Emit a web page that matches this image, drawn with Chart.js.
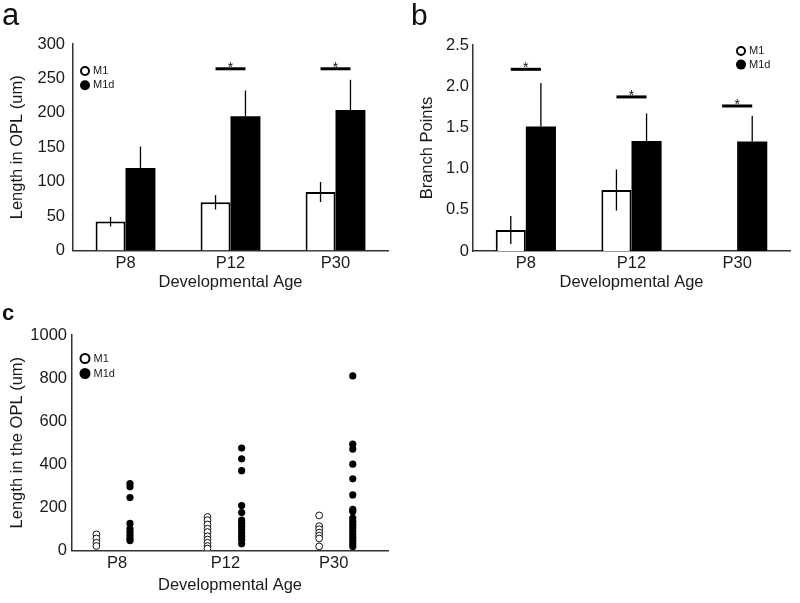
<!DOCTYPE html>
<html lang="en">
<head>
<meta charset="UTF-8">
<title>M1 / M1d dendrites in the OPL</title>
<script src="https://cdn.jsdelivr.net/npm/chart.js@4.4.1/dist/chart.umd.min.js"></script>
<style>
    body { margin: 0; background: #fff; font-family: "Liberation Sans", Arial, sans-serif; }
    .figure { position: relative; width: 800px; height: 603px; overflow: hidden; }
    .figure canvas { position: absolute; }
    #chartA { left: 0; top: 0; }
    #chartB { left: 400px; top: 0; }
    #chartC { left: 0; top: 300px; }
    .panel-label { position: absolute; color: #111; line-height: 1; }
</style>
</head>
<body>
<div class="figure">
    <canvas id="chartA" width="400" height="300"></canvas>
    <canvas id="chartB" width="400" height="300"></canvas>
    <canvas id="chartC" width="400" height="303"></canvas>
    <div class="panel-label" style="left:2px; top:-1px; font-size:31px">a</div>
    <div class="panel-label" style="left:411px; top:0; font-size:30px">b</div>
    <div class="panel-label" style="left:2px; top:302px; font-size:22px; font-weight:bold">c</div>
</div>

<script>
// categories + series
const categories = ['P8', 'P12', 'P30'];
const seriesNames = ['M1', 'M1d'];

// a: length in OPL (um), mean and error
const lengthM1 = [42, 70, 85];
const lengthM1Err = [7, 10.5, 14.5];
const lengthM1d = [120, 195, 204];
const lengthM1dErr = [31, 37.5, 44];
const lengthSig = [null, 264, 264];

// b: branch points, mean and error
const branchM1 = [0.255, 0.74, 0];
const branchM1Err = [0.17, 0.25, 0];
const branchM1d = [1.51, 1.335, 1.33];
const branchM1dErr = [0.53, 0.335, 0.31];
const branchSig = [2.205, 1.87, 1.76];

// c: single cells, length in the OPL (um)
const p8M1 = [74, 55, 35, 20];
const p8M1d = [310, 295, 245, 125, 100, 85, 70, 55, 45];
const p12M1 = [155, 140, 120, 100, 85, 65, 50, 35, 20, 8];
const p12M1d = [475, 425, 370, 208, 175, 140, 125, 110, 95, 80, 65, 50, 30];
const p30M1 = [162, 112, 98, 82, 68, 55, 18];
const p30M1d = [810, 493, 470, 400, 332, 257, 190, 180, 150, 135, 120, 105, 90, 75, 60, 45, 30, 18];
// x of each column on the scatter axis (1 = P8, 2 = P12, 3 = P30)
const m1Column = [0.81, 1.835, 2.865];
const m1dColumn = [1.12, 2.15, 3.175];

const FONT = '"Liberation Sans", Arial, sans-serif';
const INK = '#1a1a1a';
const AXIS = '#333';

Chart.defaults.font.family = FONT;
Chart.defaults.font.size = 16.5;
Chart.defaults.color = INK;

// error bars, significance bars and the little legend
function decor(opts) {
    return {
        id: 'decor',
        afterDatasetsDraw(chart) {
            const ctx = chart.ctx;
            const ys = chart.scales.y;
            ctx.save();
            ctx.strokeStyle = '#000';

            if (opts.errors) {
                opts.errors.forEach((errs, di) => {
                    const meta = chart.getDatasetMeta(di);
                    const upOnly = opts.upOnly && opts.upOnly[di];
                    meta.data.forEach((bar, j) => {
                        if (!errs[j]) return;
                        const v = chart.data.datasets[di].data[j];
                        ctx.lineWidth = 1.3;
                        ctx.beginPath();
                        ctx.moveTo(bar.x, ys.getPixelForValue(v + errs[j]));
                        ctx.lineTo(bar.x, ys.getPixelForValue(upOnly ? v : v - errs[j]));
                        ctx.stroke();
                    });
                });
            }

            if (opts.sig) {
                const m0 = chart.getDatasetMeta(0), m1 = chart.getDatasetMeta(1);
                opts.sig.forEach((lvl, j) => {
                    if (lvl == null) return;
                    const yp = ys.getPixelForValue(lvl);
                    const x0 = m0.data[j].x, x1 = m1.data[j].x;
                    ctx.lineWidth = 3;
                    ctx.beginPath();
                    ctx.moveTo(x0, yp);
                    ctx.lineTo(x1, yp);
                    ctx.stroke();
                    ctx.fillStyle = '#111';
                    ctx.font = '14px ' + FONT;
                    ctx.textAlign = 'center';
                    ctx.textBaseline = 'alphabetic';
                    ctx.fillText('*', (x0 + x1) / 2, yp + 3);
                });
            }

            const lg = opts.legend;
            chart.data.datasets.forEach((ds, i) => {
                const cy = lg.y + i * lg.gap;
                ctx.beginPath();
                if (i === 0) {
                    ctx.arc(lg.x, cy, lg.r - 1, 0, Math.PI * 2);
                    ctx.fillStyle = '#fff';
                    ctx.fill();
                    ctx.lineWidth = 2;
                    ctx.stroke();
                } else {
                    ctx.arc(lg.x, cy, lg.r, 0, Math.PI * 2);
                    ctx.fillStyle = '#000';
                    ctx.fill();
                }
                ctx.fillStyle = INK;
                ctx.font = '11px ' + FONT;
                ctx.textAlign = 'left';
                ctx.textBaseline = 'middle';
                ctx.fillText(ds.label, lg.x + lg.r + 3, cy);
            });
            ctx.restore();
        }
    };
}

function barConfig(m1, m1d, yTitle, yMax, yStep, lay) {
    return {
        type: 'bar',
        data: {
            labels: categories,
            datasets: [
                { label: seriesNames[0], data: m1, backgroundColor: '#fff', borderColor: '#000', borderWidth: 2,
                  categoryPercentage: 0.57, barPercentage: 1 },
                { label: seriesNames[1], data: m1d, backgroundColor: '#000', borderColor: '#000', borderWidth: 0,
                  categoryPercentage: 0.57, barPercentage: 1 }
            ]
        },
        options: {
            responsive: false,
            animation: false,
            devicePixelRatio: 1,
            layout: { padding: { top: lay.top, right: lay.right, left: 0, bottom: 0 } },
            plugins: { legend: { display: false }, tooltip: { enabled: false } },
            scales: {
                x: {
                    grid: { display: false, drawTicks: false },
                    border: { display: true, color: AXIS, width: 1.5 },
                    ticks: { padding: 3 },
                    title: { display: true, text: 'Developmental Age', padding: { top: 0, bottom: 8 } },
                    afterFit: s => { s.height = lay.xh; }
                },
                y: {
                    min: 0, max: yMax,
                    grid: { display: false, drawTicks: false },
                    border: { display: true, color: AXIS, width: 1.5 },
                    ticks: { stepSize: yStep, padding: lay.tickPad },
                    title: { display: true, text: yTitle, padding: { top: lay.titlePad, bottom: 0 } },
                    afterFit: s => { s.width = lay.yw; }
                }
            }
        }
    };
}

const cfgA = barConfig(lengthM1, lengthM1d, 'Length in OPL (um)', 300, 50,
    { top: 44, right: 12, xh: 49.5, yw: 73, tickPad: 8, titlePad: 8 });
cfgA.plugins = [decor({ errors: [lengthM1Err, lengthM1dErr], upOnly: [false, true], sig: lengthSig,
    legend: { x: 85, y: 71, gap: 14.3, r: 5 } })];
new Chart(document.getElementById('chartA'), cfgA);

const cfgB = barConfig(branchM1, branchM1d, 'Branch Points', 2.5, 0.5,
    { top: 45, right: 10, xh: 49, yw: 73, tickPad: 4, titlePad: 18 });
cfgB.plugins = [decor({ errors: [branchM1Err, branchM1dErr], upOnly: [false, true], sig: branchSig,
    legend: { x: 341, y: 51, gap: 13.6, r: 5 } })];
new Chart(document.getElementById('chartB'), cfgB);

// scatter of single cells
const toPts = (vals, x) => vals.map(v => ({ x: x, y: v }));
new Chart(document.getElementById('chartC'), {
    type: 'scatter',
    data: {
        datasets: [
            { label: seriesNames[0],
              data: [...toPts(p8M1, m1Column[0]), ...toPts(p12M1, m1Column[1]), ...toPts(p30M1, m1Column[2])],
              pointRadius: 3.4, pointBackgroundColor: '#fff', pointBorderColor: '#111', pointBorderWidth: 1 },
            { label: seriesNames[1],
              data: [...toPts(p8M1d, m1dColumn[0]), ...toPts(p12M1d, m1dColumn[1]), ...toPts(p30M1d, m1dColumn[2])],
              pointRadius: 3.6, pointBackgroundColor: '#000', pointBorderColor: '#000', pointBorderWidth: 0 }
        ]
    },
    options: {
        responsive: false,
        animation: false,
        devicePixelRatio: 1,
        layout: { padding: { top: 35, right: 12, left: 0, bottom: 0 } },
        plugins: { legend: { display: false }, tooltip: { enabled: false } },
        scales: {
            x: {
                type: 'linear', min: 0.585, max: 3.5,
                afterBuildTicks: s => { s.ticks = categories.map((c, i) => ({ value: i + 1 })); },
                grid: { display: false, drawTicks: false },
                border: { display: true, color: AXIS, width: 1.5 },
                ticks: { padding: 3, autoSkip: false, maxRotation: 0, callback: v => categories[v - 1] },
                title: { display: true, text: 'Developmental Age', padding: { top: 0, bottom: 8 } },
                afterFit: s => { s.height = 52.7; }
            },
            y: {
                min: 0, max: 1000,
                grid: { display: false, drawTicks: false },
                border: { display: true, color: AXIS, width: 1.5 },
                ticks: { stepSize: 200, padding: 5, callback: v => String(v) },
                title: { display: true, text: 'Length in the OPL (um)', padding: { top: 8, bottom: 0 } },
                afterFit: s => { s.width = 72; }
            }
        }
    },
    plugins: [decor({ legend: { x: 85, y: 58.5, gap: 15, r: 5.5 } })]
});
</script>
</body>
</html>
